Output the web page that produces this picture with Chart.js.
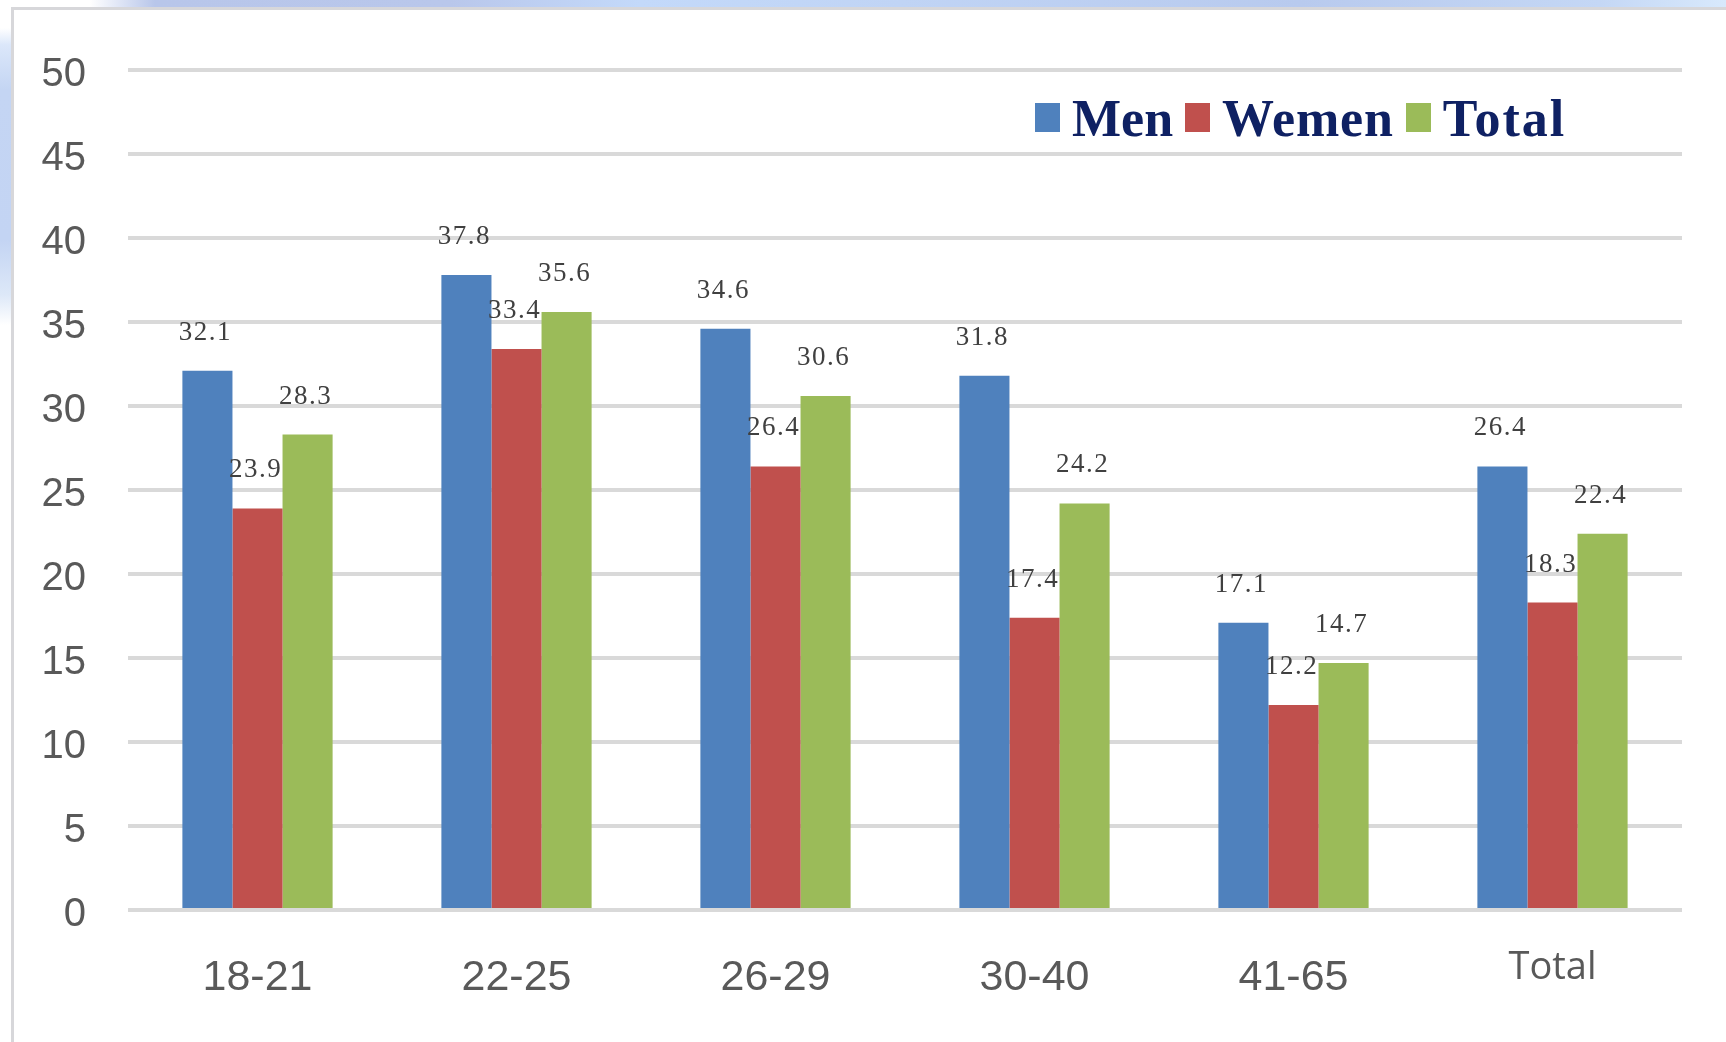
<!DOCTYPE html>
<html>
<head>
<meta charset="utf-8">
<title>Men / Wemen / Total by age group</title>
<script src="https://cdn.jsdelivr.net/npm/chart.js@4.4.1/dist/chart.umd.min.js"></script>
<style>
  html, body { margin: 0; padding: 0; background: #fff; }
  body { position: relative; width: 1726px; height: 1042px; overflow: hidden; }

  /* soft blue glow peeking out behind the chart frame */
  .glow-top {
    position: absolute; left: 0; top: 0; width: 1726px; height: 9px;
    background: linear-gradient(to right, #fff 0, #fff 90px, #b8c6ea 155px, #b9c7eb 450px,
      #c3d9fa 640px, #c0d4f5 900px, #b8caee 1300px, #c4d7f5 1600px, #d8e9fc 1726px);
  }
  .glow-left {
    position: absolute; left: 0; top: 0; width: 12px; height: 420px;
    background: linear-gradient(to bottom, #fff 0, #fff 28px, #dbe7fa 45px, #c4d5f3 90px,
      #c3d4f3 240px, #dde8f8 295px, #fff 325px);
  }
  .frame {
    position: absolute; left: 11px; top: 7px; width: 2000px; height: 2000px;
    border: 3px solid #d7d7da; background: #fff;
  }
  #chart { position: absolute; left: 0; top: 0; }

  .legend {
    position: absolute; left: 1035px; top: 93px;
    display: flex; align-items: center;
    font: bold 52px "Liberation Serif", "Times New Roman", serif;
    color: #0f2163; line-height: 52px;
  }
  .legend-item { display: flex; align-items: center; margin-right: 12px; }
  .legend-item:nth-child(2) .legend-name { letter-spacing: 0.8px; }
  .legend-item:last-child .legend-name { letter-spacing: 2px; }
  .legend-box { width: 25px; height: 29px; margin-right: 12px; margin-top: -4px; }
</style>
</head>
<body>
<div class="glow-top"></div>
<div class="glow-left"></div>
<div class="frame"></div>
<canvas id="chart" width="1726" height="1042"></canvas>
<div class="legend" id="legend"></div>

<script>
// ── data ────────────────────────────────────
const categories = ['18-21', '22-25', '26-29', '30-40', '41-65', 'Total'];
const menValues = [32.1, 37.8, 34.6, 31.8, 17.1, 26.4];
const womenValues = [23.9, 33.4, 26.4, 17.4, 12.2, 18.3];
const totalValues = [28.3, 35.6, 30.6, 24.2, 14.7, 22.4];

const seriesNames = ['Men', 'Wemen', 'Total'];
const seriesColors = ['#4f81bd', '#c0504d', '#9bbb59'];

const yMin = 0;
const yMax = 50;
const yStep = 5;

// ── value labels above each bar ─────────────
const barValueLabels = {
  id: 'barValueLabels',
  afterDatasetsDraw(chart) {
    const ctx = chart.ctx;
    ctx.save();
    ctx.font = '27px "Liberation Serif", "Times New Roman", serif';
    ctx.fillStyle = '#404040';
    ctx.textAlign = 'center';
    ctx.textBaseline = 'alphabetic';
    ctx.letterSpacing = '1.5px';
    chart.data.datasets.forEach((ds, i) => {
      chart.getDatasetMeta(i).data.forEach((bar, j) => {
        ctx.fillText(ds.data[j].toFixed(1), bar.x - 2, bar.y - 31);
      });
    });
    ctx.restore();
  }
};

const seriesValues = [menValues, womenValues, totalValues];

const chart = new Chart(document.getElementById('chart'), {
  type: 'bar',
  data: {
    labels: categories,
    datasets: seriesNames.map((name, i) => ({
      label: name,
      data: seriesValues[i],
      backgroundColor: seriesColors[i],
      borderWidth: 0,
      categoryPercentage: 0.58,
      barPercentage: 1.0
    }))
  },
  options: {
    responsive: false,
    devicePixelRatio: 1,
    animation: false,
    layout: { padding: { top: 70, right: 44, bottom: 0, left: 0 } },
    plugins: {
      legend: { display: false },
      tooltip: { enabled: false }
    },
    scales: {
      x: {
        grid: { display: false },
        border: { display: false },
        ticks: {
          padding: 34,
          color: '#595959',
          maxRotation: 0,
          // the last category label is set smaller, in a different face
          font: c => c.index === categories.length - 1
            ? { family: '"Open Sans", "Liberation Sans", sans-serif', size: 38, lineHeight: '33px' }
            : { family: '"Liberation Sans", Arial, sans-serif', size: 43, lineHeight: 1.2 }
        },
        afterFit: scale => { scale.height = 132; }
      },
      y: {
        min: yMin,
        max: yMax,
        grid: { color: '#d9d9d9', lineWidth: 4, drawTicks: false },
        border: { display: false },
        ticks: {
          stepSize: yStep,
          padding: 42,
          labelOffset: 5,
          color: '#595959',
          font: { family: '"Liberation Sans", Arial, sans-serif', size: 40 }
        },
        afterFit: scale => { scale.width = 128; }
      }
    }
  },
  plugins: [barValueLabels]
});

// legend
const legend = document.getElementById('legend');
legend.innerHTML = seriesNames.map((name, i) => `
  <div class="legend-item">
    <span class="legend-box" style="background:${seriesColors[i]}"></span>
    <span class="legend-name">${name}</span>
  </div>`).join('');
</script>
</body>
</html>
